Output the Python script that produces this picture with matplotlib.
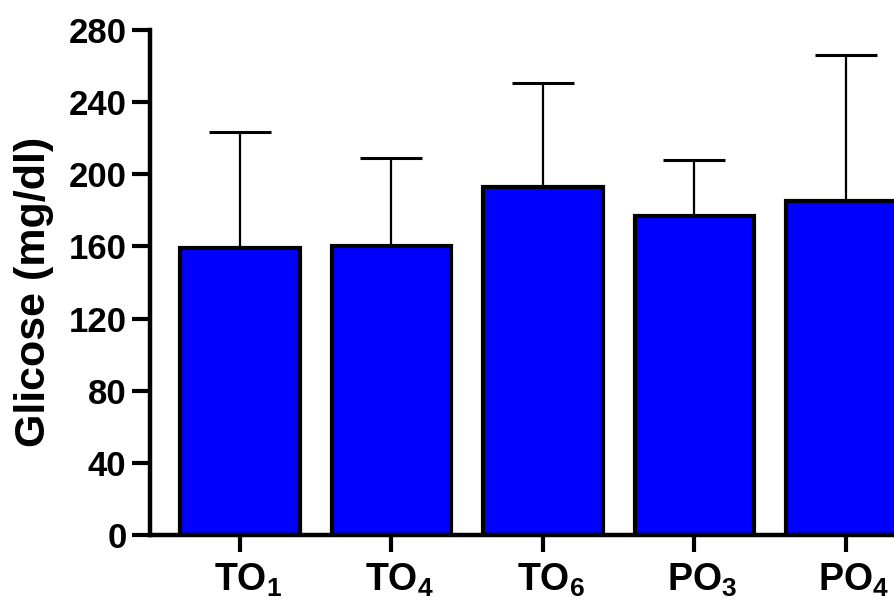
import numpy as np
import matplotlib
matplotlib.use('Agg')
import matplotlib.pyplot as plt
import matplotlib.transforms as mtransforms

plt.rcParams['font.family'] = 'Liberation Sans'
plt.rcParams['font.weight'] = 'bold'
plt.rcParams['mathtext.fontset'] = 'custom'
plt.rcParams['mathtext.rm'] = 'Liberation Sans:bold'
plt.rcParams['mathtext.bf'] = 'Liberation Sans:bold'

# Glicose media e desvio padrao por grupo
grupos = [r'$\mathbf{TO_1}$', r'$\mathbf{TO_4}$', r'$\mathbf{TO_6}$',
          r'$\mathbf{PO_3}$', r'$\mathbf{PO_4}$']
media = [159, 160, 193, 177, 185]
desvio = [64.5, 49, 57.5, 31, 81]

fig = plt.figure(figsize=(8.94, 6), dpi=100)
ax = fig.add_axes([0.1678, 0.1083, 0.88, 0.8417])

x = np.arange(len(grupos))
ax.bar(x, media, width=0.79, color='#0000FF', edgecolor='black',
       linewidth=3, zorder=2)
ax.errorbar(x, media, yerr=[np.zeros(len(media)), desvio], fmt='none',
            ecolor='black', elinewidth=1.6, capsize=22, capthick=2.2,
            zorder=1)

ax.set_xlim(-0.594, 4.6)
ax.set_ylim(0, 280)
ax.set_yticks(np.arange(0, 281, 40))
ax.set_xticks(x)
ax.set_xticklabels(grupos)

for s in ['top', 'right']:
    ax.spines[s].set_visible(False)
for s in ['left', 'bottom']:
    ax.spines[s].set_linewidth(3.2)

ax.tick_params(axis='y', length=13, width=3, labelsize=25, pad=4)
ax.tick_params(axis='x', length=12, width=3, labelsize=27, pad=7)

# centra o texto principal no tick, deixando o subscrito para a direita
desloc = mtransforms.ScaledTranslation(8 / 100, 0, fig.dpi_scale_trans)
for lbl in ax.get_xticklabels():
    lbl.set_transform(lbl.get_transform() + desloc)

ax.set_ylabel('Glicose (mg/dl)', fontsize=31, fontweight='bold')
ax.yaxis.set_label_coords(-0.122, 0.482)

fig.savefig('out.png', dpi=100)
